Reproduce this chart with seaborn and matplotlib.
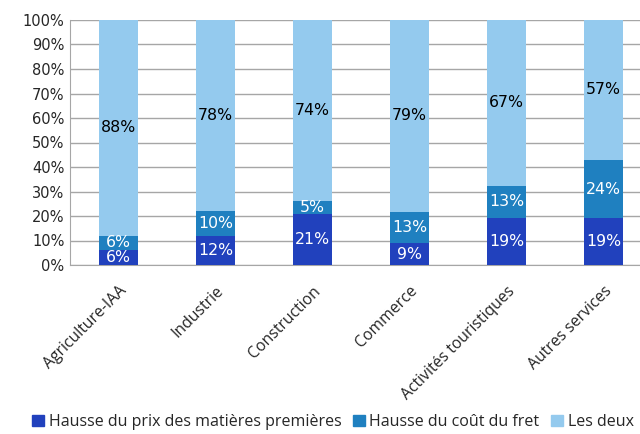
import matplotlib
matplotlib.use("Agg")
import matplotlib.pyplot as plt
import seaborn as sns
import pandas as pd
import numpy as np

categories = ["Agriculture-IAA", "Industrie", "Construction", "Commerce",
              "Activités touristiques", "Autres services"]
prix = [6, 12, 21, 9, 19, 19]
fret = [6, 10, 5, 13, 13, 24]
deux = [88, 78, 74, 79, 67, 57]
series = ["Hausse du prix des matières premières", "Hausse du coût du fret", "Les deux"]
colors = ["#2141BD", "#1F80C0", "#94CAEE"]

sns.set_style("white")
plt.rcParams["font.family"] = ["DejaVu Sans"]

prix_a = np.array(prix, dtype=float)
fret_a = np.array(fret, dtype=float)
deux_a = np.array(deux, dtype=float)
# normalise to 100% stacked
tot = prix_a + fret_a + deux_a
p = prix_a / tot * 100
f = fret_a / tot * 100
d = deux_a / tot * 100

df = pd.DataFrame({"cat": categories, "c1": p, "c2": p + f, "c3": p + f + d})

fig = plt.figure(figsize=(6.4, 4.34), dpi=100)
ax = fig.add_axes([70 / 640, (434 - 265) / 434, 582 / 640, 245 / 434])

for col, c in zip(["c3", "c2", "c1"], colors[::-1]):
    sns.barplot(data=df, x="cat", y=col, color=c, width=0.4, ax=ax,
                saturation=1, edgecolor="none", zorder=3)

ax.set_ylim(0, 100)
ax.set_xlim(-0.5, len(categories) - 0.5)
ax.set_yticks(range(0, 101, 10))
ax.set_yticklabels([f"{v}%" for v in range(0, 101, 10)], fontsize=10.5)
ax.yaxis.grid(True, color="#A6A6A6", linewidth=1, zorder=0)
ax.set_axisbelow(True)
ax.set_xlabel("")
ax.set_ylabel("")
ax.set_xticks(range(len(categories)))
ax.set_xticklabels(categories, rotation=45, ha="right", rotation_mode="anchor",
                   fontsize=11.3, family="Open Sans")
ax.tick_params(axis="x", length=0, pad=13)
ax.tick_params(axis="y", length=0, pad=4)
ax.set_xticks(np.arange(-0.5, len(categories), 1), minor=True)
ax.tick_params(axis="x", which="minor", length=5, color="#A6A6A6", direction="out")
for s in ["top", "right"]:
    ax.spines[s].set_visible(False)
for s in ["left", "bottom"]:
    ax.spines[s].set_color("#A6A6A6")

lab = 11.3
for i in range(len(categories)):
    ax.text(i, p[i] / 2, f"{prix[i]}%", ha="center", va="center", color="white",
            fontsize=lab, zorder=5)
    ax.text(i, p[i] + f[i] / 2, f"{fret[i]}%", ha="center", va="center", color="white",
            fontsize=lab, zorder=5)
    ax.text(i, p[i] + f[i] + d[i] / 2, f"{deux[i]}%", ha="center", va="center",
            color="black", fontsize=lab, zorder=5)

handles = [plt.Rectangle((0, 0), 1, 1, color=c) for c in colors]
fig.legend(handles, series, loc="center", bbox_to_anchor=(0.52, 12 / 434),
           ncol=3, frameon=False, handlelength=0.75, handleheight=0.75,
           handletextpad=0.3, columnspacing=0.7, prop={"family": "Open Sans", "size": 11.5})

fig.savefig("out.png", dpi=100)
